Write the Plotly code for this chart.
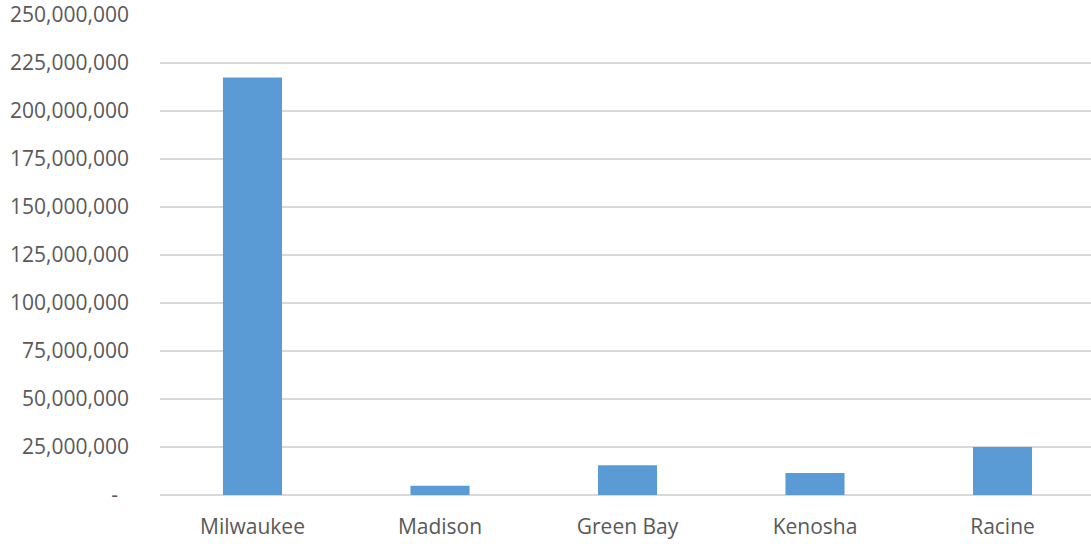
import plotly.graph_objects as go

# Values by city
cities = ["Milwaukee", "Madison", "Green Bay", "Kenosha", "Racine"]
values = [217_500_000, 4_800_000, 15_500_000, 11_500_000, 25_000_000]

# Y-axis ticks (accounting-style labels, zero shown as a dash)
tick_vals = [0, 25_000_000, 50_000_000, 75_000_000, 100_000_000, 125_000_000,
             150_000_000, 175_000_000, 200_000_000, 225_000_000, 250_000_000]
tick_text = ["-\u00a0\u00a0", "25,000,000", "50,000,000", "75,000,000", "100,000,000",
             "125,000,000", "150,000,000", "175,000,000", "200,000,000",
             "225,000,000", "250,000,000"]

fig = go.Figure(
    go.Bar(
        x=cities,
        y=values,
        marker=dict(color="#5b9bd5", line=dict(width=0)),
    )
)

fig.update_layout(
    width=1091,
    height=544,
    margin=dict(l=160, r=0, t=15, b=49),
    paper_bgcolor="white",
    plot_bgcolor="white",
    bargap=0.685,
    showlegend=False,
    font=dict(family="Open Sans", size=21, color="#595959"),
)

fig.update_xaxes(
    range=[-0.4933, 4.472],
    showgrid=False,
    showline=False,
    ticks="",
    ticklabelstandoff=17,
    tickfont=dict(size=21, color="#595959"),
)

fig.update_yaxes(
    range=[0, 250_000_000],
    tickvals=tick_vals,
    ticktext=tick_text,
    showgrid=True,
    gridcolor="#d9d9d9",
    gridwidth=1.5,
    zeroline=True,
    zerolinecolor="#d9d9d9",
    zerolinewidth=1.5,
    showline=False,
    ticks="",
    ticklabelstandoff=30,
    tickfont=dict(size=21, color="#595959"),
)

fig.write_html("out.html")
